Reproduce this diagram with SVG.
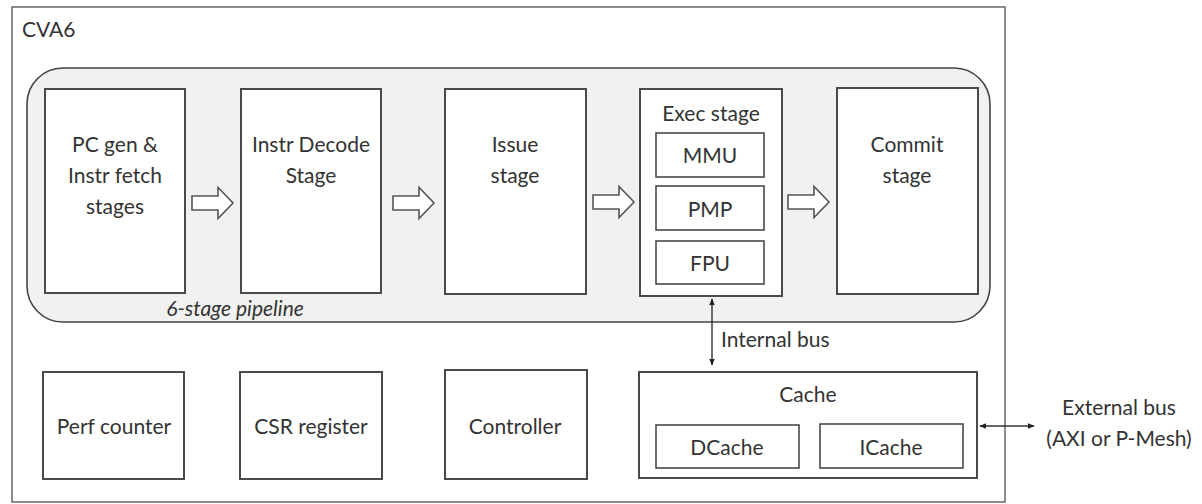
<svg xmlns="http://www.w3.org/2000/svg" width="1202" height="504" viewBox="0 0 1202 504">
<style>
  .t { font-family: Lato, "Liberation Sans", sans-serif; font-size: 21px; fill: #333; text-anchor: middle; }
  .box { fill: #fff; stroke: #4a4a4a; stroke-width: 2; }
  .thin { fill: #fff; stroke: #4a4a4a; stroke-width: 1.6; }
  .blk { fill: #fff; stroke: #555; stroke-width: 1.6; }
  .ln { stroke: #333; stroke-width: 1.4; fill: none; }
</style>
<defs>
  <path id="barrow" d="M0,-7 H26 V-15.5 L41,0 L26,15.5 V7 H0 Z"/>
  <marker id="ah" viewBox="0 0 10 10" refX="9" refY="5" markerWidth="7" markerHeight="7" orient="auto-start-reverse" markerUnits="userSpaceOnUse">
    <path d="M0,1 L10,5 L0,9 Z" fill="#222"/>
  </marker>
</defs>
<rect width="1202" height="504" fill="#fff"/>
<g id="cva6">
  <rect x="12" y="7" width="993" height="495" fill="#fff" stroke="#666" stroke-width="1.5"/>
  <text class="t" x="22" y="37" style="text-anchor:start" font-size="19">CVA6</text>
</g>
<g id="pipeline">
  <rect x="27" y="68" width="963" height="254" rx="36" ry="36" fill="#f1f1f1" stroke="#444" stroke-width="1.6"/>
  <text class="t" x="235" y="316" font-size="13.5" font-style="italic">6-stage pipeline</text>
</g>
<g id="pcgen">
  <rect class="box" x="45" y="89" width="140" height="204"/>
  <text class="t" x="115" y="152">PC gen &amp;</text>
  <text class="t" x="115" y="183">Instr fetch</text>
  <text class="t" x="115" y="214">stages</text>
</g>
<g id="decode">
  <rect class="box" x="241" y="89" width="140" height="204"/>
  <text class="t" x="311" y="152">Instr Decode</text>
  <text class="t" x="311" y="183">Stage</text>
</g>
<g id="issue">
  <rect class="box" x="445" y="89" width="141" height="205"/>
  <text class="t" x="515" y="152">Issue</text>
  <text class="t" x="515" y="183">stage</text>
</g>
<g id="exec">
  <rect class="box" x="640" y="89" width="142" height="207"/>
  <text class="t" x="711" y="121" font-size="19">Exec stage</text>
  <g id="mmu">
    <rect class="thin" x="656" y="133" width="108" height="44"/>
    <text class="t" x="710" y="163">MMU</text>
  </g>
  <g id="pmp">
    <rect class="thin" x="656" y="186" width="108" height="44"/>
    <text class="t" x="710" y="217">PMP</text>
  </g>
  <g id="fpu">
    <rect class="thin" x="656" y="241" width="108" height="43"/>
    <text class="t" x="710" y="271">FPU</text>
  </g>
</g>
<g id="commit">
  <rect class="box" x="837" y="88" width="141" height="206"/>
  <text class="t" x="907" y="152">Commit</text>
  <text class="t" x="907" y="183">stage</text>
</g>
<g id="perf">
  <rect class="box" x="43" y="372" width="141" height="107"/>
  <text class="t" x="114" y="434">Perf counter</text>
</g>
<g id="csr">
  <rect class="box" x="240" y="372" width="142" height="107"/>
  <text class="t" x="311" y="434">CSR register</text>
</g>
<g id="controller">
  <rect class="box" x="445" y="370" width="142" height="109"/>
  <text class="t" x="515" y="434">Controller</text>
</g>
<g id="cache">
  <rect class="box" x="639" y="372" width="338" height="106"/>
  <text class="t" x="808" y="402">Cache</text>
  <g id="dcache">
    <rect class="thin" x="656" y="425" width="143" height="43"/>
    <text class="t" x="727" y="455">DCache</text>
  </g>
  <g id="icache">
    <rect class="thin" x="820" y="424" width="143" height="44"/>
    <text class="t" x="891" y="455">ICache</text>
  </g>
</g>
<g id="connectors">
  <use href="#barrow" class="blk" x="192" y="203"/>
  <use href="#barrow" class="blk" x="393" y="203"/>
  <use href="#barrow" class="blk" x="593" y="202"/>
  <use href="#barrow" class="blk" x="788" y="202"/>
  <line class="ln" x1="712" y1="299" x2="712" y2="365" marker-start="url(#ah)" marker-end="url(#ah)"/>
  <text class="t" x="721" y="347" style="text-anchor:start" font-size="20">Internal bus</text>
  <line class="ln" x1="980" y1="426" x2="1034" y2="426" marker-start="url(#ah)" marker-end="url(#ah)"/>
</g>
<g id="external">
  <text class="t" x="1119" y="415" font-size="19">External bus</text>
  <text class="t" x="1119" y="446" font-size="19">(AXI or P-Mesh)</text>
</g>
</svg>
